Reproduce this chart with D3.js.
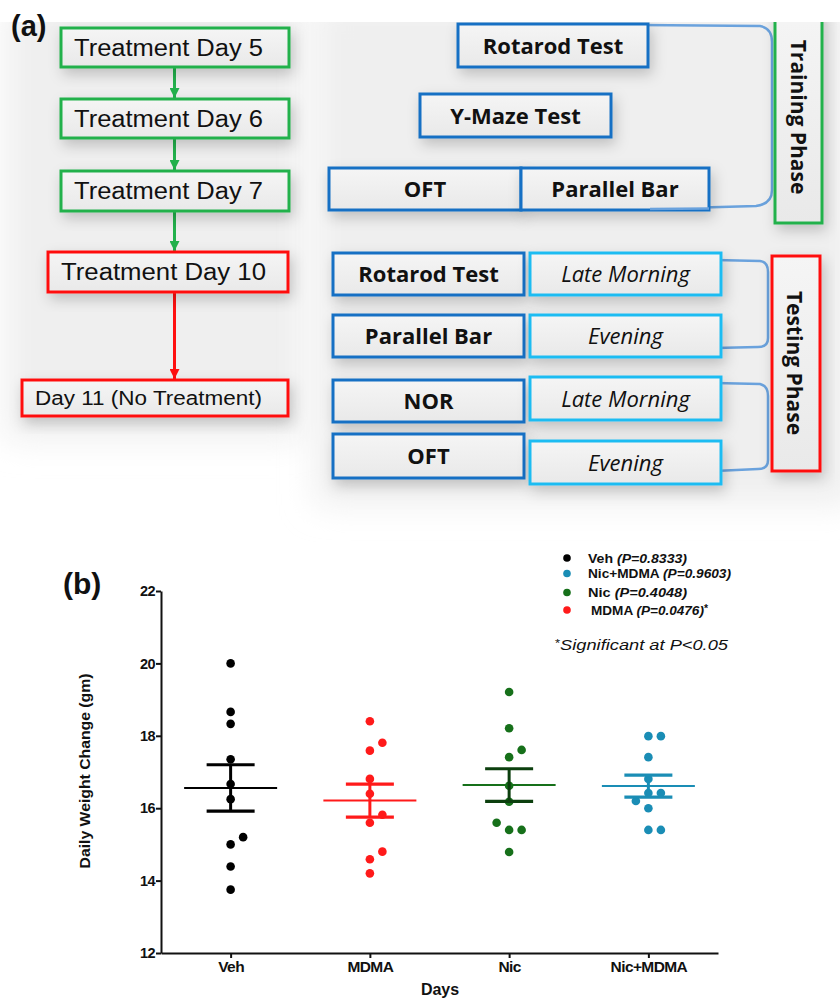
<!DOCTYPE html>
<html lang="en">
<head>
<meta charset="utf-8">
<title>Treatment schedule and daily weight change</title>
<script src="https://d3js.org/d3.v7.min.js"></script>
<style>
body { margin:0; background:#fff; }
.step-text { font-family:'Liberation Sans', Arial, sans-serif; fill:#111; }
.test-text { font-family:'Open Sans', sans-serif; font-weight:700; font-size:22px; fill:#111; }
.time-text { font-family:'Open Sans', sans-serif; font-style:italic; font-size:22px; fill:#111; }
.phase-text { font-family:'Open Sans', sans-serif; font-weight:700; font-size:21px; fill:#111; }
.axis text { font-family:'Liberation Sans', Arial, sans-serif; font-weight:700; font-size:14.5px; fill:#111; }
.axis path, .axis line { stroke:#111; stroke-width:2px; }
.lab { font-family:'Liberation Sans', Arial, sans-serif; font-weight:700; fill:#111; }
</style>
</head>
<body>
<div id="figure"></div>
<script>
// ---------- panel (a) content ----------
var treatmentSteps = ["Treatment Day 5", "Treatment Day 6", "Treatment Day 7", "Treatment Day 10", "Day 11 (No Treatment)"];
var trainingTests = ["Rotarod Test", "Y-Maze Test", "OFT", "Parallel Bar"];
var testingTests = ["Rotarod Test", "Parallel Bar", "NOR", "OFT"];
var testingTimes = ["Late Morning", "Evening", "Late Morning", "Evening"];

// ---------- panel (b) data ----------
var groups = ["Veh", "MDMA", "Nic", "Nic+MDMA"];
var vehValues = [20.0, 18.66, 18.33, 17.35, 16.67, 16.25, 15.0, 15.2, 14.39, 13.75];
var mdmaValues = [18.4, 17.59, 17.81, 16.81, 16.40, 15.6, 15.82, 14.59, 14.8, 14.2];
var nicValues = [19.21, 18.21, 17.41, 17.61, 16.62, 16.18, 15.4, 15.4, 15.6, 14.79];
var nicMdmaValues = [17.99, 17.99, 17.41, 16.81, 16.42, 16.42, 16.2, 16.0, 15.4, 15.4];
var groupMeans = [16.56, 16.21, 16.64, 16.61];
var groupSem = [0.64, 0.455, 0.45, 0.305];
var yTicks = [12, 14, 16, 18, 20, 22];

var legendNames = ["Veh", "Nic+MDMA", "Nic", "MDMA"];
var legendP = ["0.8333", "0.9603", "0.4048", "0.0476"];
var legendSig = ["", "", "", "*"];

var green = "#22b14c", red = "#ff1010", darkBlue = "#1670c4", lightBlue = "#1ebcf2", bracketBlue = "#6aa2dd";
var groupColors = {"Veh": "#000000", "MDMA": "#ff1a1a", "Nic": "#16701a", "Nic+MDMA": "#1a8db5"};
var semColors = {"Veh": "#000000", "MDMA": "#ff1a1a", "Nic": "#0c3f0e", "Nic+MDMA": "#1a8db5"};

var width = 840, height = 998;

var svg = d3.select("#figure")
  .append("svg")
    .attr("width", width)
    .attr("height", height);

var defs = svg.append("defs");

var halo = defs.append("filter").attr("id", "halo")
  .attr("x", "-30%").attr("y", "-30%").attr("width", "160%").attr("height", "160%");
halo.append("feGaussianBlur").attr("stdDeviation", 16);

var shadow = defs.append("filter").attr("id", "shadow")
  .attr("x", "-30%").attr("y", "-50%").attr("width", "160%").attr("height", "200%");
shadow.append("feDropShadow").attr("dx", 3).attr("dy", 6).attr("stdDeviation", 7)
  .attr("flood-color", "#000").attr("flood-opacity", 0.2);

var boxGrad = defs.append("linearGradient").attr("id", "boxfill").attr("x1", 0).attr("y1", 0).attr("x2", 0).attr("y2", 1);
boxGrad.append("stop").attr("offset", "0%").attr("stop-color", "#f5f5f5");
boxGrad.append("stop").attr("offset", "100%").attr("stop-color", "#e9e9e9");

defs.append("clipPath").attr("id", "clipA")
  .append("rect").attr("x", 0).attr("y", 22).attr("width", width).attr("height", 520);

function arrowMarker(id, color) {
  defs.append("marker")
    .attr("id", id)
    .attr("viewBox", "0 0 10 10")
    .attr("refX", 10).attr("refY", 5)
    .attr("markerUnits", "userSpaceOnUse")
    .attr("markerWidth", 11).attr("markerHeight", 10)
    .attr("orient", "auto")
    .append("path").attr("d", "M0,0 L10,5 L0,10 z").attr("fill", color);
}
arrowMarker("arrowGreen", green);
arrowMarker("arrowRed", red);

// ================= panel (a) =================
var pa = svg.append("g").attr("clip-path", "url(#clipA)");

// soft grey background halos
pa.append("rect").attr("x", 5).attr("y", 0).attr("width", 300).attr("height", 440)
  .attr("fill", "#efefef").attr("filter", "url(#halo)");
pa.append("rect").attr("x", 315).attr("y", 0).attr("width", 540).attr("height", 505)
  .attr("fill", "#efefef").attr("filter", "url(#halo)");

function box(g, x0, y0, x1, y1, color) {
  g.append("rect")
    .attr("x", x0).attr("y", y0)
    .attr("width", x1 - x0).attr("height", y1 - y0)
    .attr("fill", "url(#boxfill)")
    .attr("stroke", color)
    .attr("stroke-width", 3)
    .attr("filter", "url(#shadow)");
}

// left column: treatment days
var stepBoxes = [
  {x0: 61, y0: 28, x1: 289, y1: 67, c: green, fs: 23, len: 189},
  {x0: 61, y0: 99, x1: 289, y1: 138, c: green, fs: 23, len: 189},
  {x0: 61, y0: 171, x1: 289, y1: 211, c: green, fs: 23, len: 189},
  {x0: 48, y0: 252, x1: 288, y1: 292, c: red, fs: 23, len: 205},
  {x0: 22, y0: 380, x1: 288, y1: 416, c: red, fs: 20, len: 227}
];
var arrowX = 174.5;
stepBoxes.forEach(function(b, i) {
  if (i > 0) {
    var prev = stepBoxes[i - 1];
    var col = i <= 3 ? green : red;
    pa.append("line")
      .attr("x1", arrowX).attr("x2", arrowX)
      .attr("y1", prev.y1).attr("y2", b.y0 - 1)
      .attr("stroke", col).attr("stroke-width", 3)
      .attr("marker-end", i <= 3 ? "url(#arrowGreen)" : "url(#arrowRed)");
  }
});
stepBoxes.forEach(function(b, i) {
  box(pa, b.x0, b.y0, b.x1, b.y1, b.c);
  pa.append("text")
    .attr("class", "step-text")
    .attr("x", b.x0 + 13)
    .attr("y", (b.y0 + b.y1) / 2 + b.fs * 0.35)
    .style("font-size", b.fs + "px")
    .attr("textLength", b.len)
    .attr("lengthAdjust", "spacingAndGlyphs")
    .text(treatmentSteps[i]);
});

// right column: training phase
var trainBoxes = [
  {x0: 458, y0: 24, x1: 648, y1: 67},
  {x0: 420, y0: 94, x1: 611, y1: 137},
  {x0: 329, y0: 168, x1: 521, y1: 210},
  {x0: 521, y0: 168, x1: 709, y1: 210}
];

pa.append("path")
  .attr("d", "M640,25 L760,26 Q772,28 772,42 L772,190 Q772,204 756,206 L650,209")
  .attr("fill", "none").attr("stroke", bracketBlue).attr("stroke-width", 2.5);

trainBoxes.forEach(function(b, i) {
  box(pa, b.x0, b.y0, b.x1, b.y1, darkBlue);
});
trainBoxes.forEach(function(b, i) {
  pa.append("text")
    .attr("class", "test-text")
    .attr("x", (b.x0 + b.x1) / 2)
    .attr("y", (b.y0 + b.y1) / 2 + 8)
    .attr("text-anchor", "middle")
    .text(trainingTests[i]);
});
// bracket tail runs along the parallel bar bottom
pa.append("path")
  .attr("d", "M650,209 L709,208.5")
  .attr("fill", "none").attr("stroke", bracketBlue).attr("stroke-width", 2.5);

// training phase box (top is clipped off)
pa.append("rect")
  .attr("x", 775).attr("y", 5).attr("width", 47).attr("height", 218)
  .attr("fill", "url(#boxfill)").attr("stroke", green).attr("stroke-width", 3)
  .attr("filter", "url(#shadow)");
pa.append("text")
  .attr("class", "phase-text")
  .attr("transform", "translate(791,117) rotate(90)")
  .attr("text-anchor", "middle")
  .text("Training Phase");

// testing phase
var testRows = [
  {y0: 253, y1: 295, t0: 253, t1: 295},
  {y0: 315, y1: 357, t0: 315, t1: 357},
  {y0: 380, y1: 422, t0: 377, t1: 420},
  {y0: 434, y1: 478, t0: 441, t1: 484}
];
pa.append("path")
  .attr("d", "M715,260 L760,261 Q768,262 768,272 L768,338 Q768,347 758,347 L715,348")
  .attr("fill", "none").attr("stroke", bracketBlue).attr("stroke-width", 2.5);
pa.append("path")
  .attr("d", "M715,383 L760,384 Q768,386 768,396 L768,460 Q768,469 758,469 L715,471")
  .attr("fill", "none").attr("stroke", bracketBlue).attr("stroke-width", 2.5);

testRows.forEach(function(r, i) {
  box(pa, 333, r.y0, 524, r.y1, darkBlue);
  box(pa, 530, r.t0, 721, r.t1, lightBlue);
  pa.append("text")
    .attr("class", "test-text")
    .attr("x", 428.5).attr("y", (r.y0 + r.y1) / 2 + 8)
    .attr("text-anchor", "middle")
    .text(testingTests[i]);
  pa.append("text")
    .attr("class", "time-text")
    .attr("x", 625.5).attr("y", (r.t0 + r.t1) / 2 + 8)
    .attr("text-anchor", "middle")
    .text(testingTimes[i]);
});

pa.append("rect")
  .attr("x", 772).attr("y", 256).attr("width", 48).attr("height", 215)
  .attr("fill", "url(#boxfill)").attr("stroke", red).attr("stroke-width", 3)
  .attr("filter", "url(#shadow)");
pa.append("text")
  .attr("class", "phase-text")
  .attr("transform", "translate(787,363) rotate(90)")
  .attr("text-anchor", "middle")
  .text("Testing Phase");

svg.append("text").attr("class", "lab")
  .attr("x", 11).attr("y", 36)
  .style("font-size", "29px")
  .text("(a)");

// ================= panel (b) =================
var y = d3.scaleLinear()
  .domain([12, 22])
  .range([953, 591]);

var x = d3.scalePoint()
  .domain(groups)
  .range([161, 718])
  .padding(0.5);

svg.append("text").attr("class", "lab")
  .attr("x", 63).attr("y", 594)
  .style("font-size", "30px")
  .text("(b)");

svg.append("g")
  .attr("class", "axis")
  .attr("transform", "translate(161,0)")
  .call(d3.axisLeft(y).tickValues(yTicks).tickSize(5).tickSizeOuter(0).tickPadding(1))
  .selectAll("text").style("letter-spacing", "-0.6px");

svg.append("g")
  .attr("class", "axis")
  .attr("transform", "translate(0," + y(12) + ")")
  .call(d3.axisBottom(x).tickSize(5).tickSizeOuter(0).tickPadding(3))
  .selectAll("text").style("font-size", "15.5px").style("letter-spacing", "-0.6px");

svg.append("text").attr("class", "lab")
  .attr("x", 440).attr("y", 995)
  .attr("text-anchor", "middle")
  .style("font-size", "16px")
  .text("Days");

svg.append("text").attr("class", "lab")
  .attr("transform", "translate(90,771) rotate(-90)")
  .attr("text-anchor", "middle")
  .style("font-size", "15.5px")
  .attr("textLength", 195)
  .attr("lengthAdjust", "spacingAndGlyphs")
  .text("Daily Weight Change (gm)");

// points, dodged sideways when they would overlap
var groupValues = [vehValues, mdmaValues, nicValues, nicMdmaValues];
var r = 4.3, step = 12.5;
groupValues.forEach(function(vals, gi) {
  var g = groups[gi];
  var placed = [];
  vals.forEach(function(v) {
    var py = y(v);
    var slots = [0, 1, -1, 2, -2];
    for (var k = 0; k < slots.length; k++) {
      var px = x(g) + slots[k] * step;
      var hit = placed.some(function(p) {
        return Math.hypot(p.x - px, p.y - py) < 2 * r + 0.8;
      });
      if (!hit) { placed.push({x: px, y: py}); break; }
    }
  });
  svg.append("g")
    .selectAll("circle")
    .data(placed)
    .enter()
    .append("circle")
      .attr("cx", function(d) { return d.x; })
      .attr("cy", function(d) { return d.y; })
      .attr("r", r)
      .attr("fill", groupColors[g]);

  var cx = x(g), m = groupMeans[gi], s = groupSem[gi];
  var eb = svg.append("g");
  eb.append("line")
    .attr("x1", cx - 46.5).attr("x2", cx + 46.5)
    .attr("y1", y(m)).attr("y2", y(m))
    .attr("stroke", groupColors[g]).attr("stroke-width", 2);
  eb.append("line")
    .attr("x1", cx).attr("x2", cx)
    .attr("y1", y(m + s)).attr("y2", y(m - s))
    .attr("stroke", semColors[g]).attr("stroke-width", 3);
  [m + s, m - s].forEach(function(v) {
    eb.append("line")
      .attr("x1", cx - 24).attr("x2", cx + 24)
      .attr("y1", y(v)).attr("y2", y(v))
      .attr("stroke", semColors[g]).attr("stroke-width", 3.2);
  });
});

// legend
var legendY = [558, 573.5, 592.5, 610];
var legendLen = [99, 143, 99, 117];
var legend = svg.append("g");
legendNames.forEach(function(n, i) {
  legend.append("circle")
    .attr("cx", 567).attr("cy", legendY[i]).attr("r", 3.8)
    .attr("fill", groupColors[n]);
  var t = legend.append("text").attr("class", "lab")
    .attr("x", n === "MDMA" ? 591 : 588)
    .attr("y", legendY[i] + 4.8)
    .style("font-size", "13px")
    .attr("textLength", legendLen[i])
    .attr("lengthAdjust", "spacingAndGlyphs");
  t.append("tspan").text(n + " ");
  t.append("tspan").style("font-style", "italic").text("(P=" + legendP[i] + ")");
  if (legendSig[i]) t.append("tspan").attr("dy", -3).style("font-size", "10px").text(legendSig[i]);
});

var sig = svg.append("text")
  .attr("x", 555).attr("y", 650)
  .style("font-family", "'Liberation Sans', Arial, sans-serif")
  .style("font-style", "italic")
  .style("font-size", "14px")
  .attr("textLength", 173)
  .attr("lengthAdjust", "spacingAndGlyphs")
  .attr("fill", "#111");
sig.append("tspan").attr("dy", -3).style("font-size", "10px").style("font-style", "normal").text("*");
sig.append("tspan").attr("dy", 3).text("Significant at P<0.05");
</script>
</body>
</html>
